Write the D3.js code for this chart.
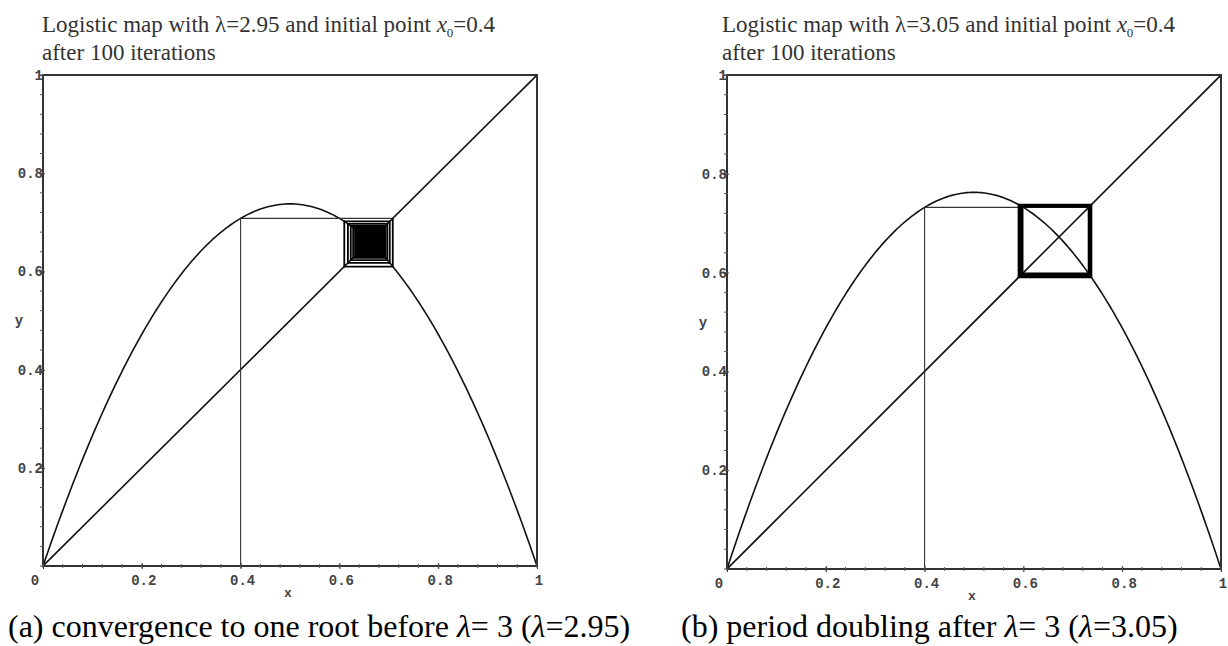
<!DOCTYPE html>
<html>
<head>
<meta charset="utf-8">
<script src="https://cdn.jsdelivr.net/npm/d3@7"></script>
<style>
  html, body { margin: 0; padding: 0; background: #fff; }
  svg { display: block; }
</style>
</head>
<body>
<svg id="chart" width="1228" height="646"></svg>
<script>
// ---- data ----
const panelIds = ["a", "b"];
const lambdas = [2.95, 3.05];
const startPoints = [0.4, 0.4];
const iterationCounts = [100, 100];
const xTickValues = [0, 0.2, 0.4, 0.6, 0.8, 1];
const xTickLabels = ["0", "0.2", "0.4", "0.6", "0.8", "1"];
const yTickValues = [0.2, 0.4, 0.6, 0.8, 1];
const yTickLabels = ["0.2", "0.4", "0.6", "0.8", "1"];
const titleLambda = ["2.95", "3.05"];
const captionText = [
  ["(a) convergence to one root before ", "λ", "= 3 (", "λ", "=2.95)"],
  ["(b) period doubling after ", "λ", "= 3 (", "λ", "=3.05)"]
];

// ---- layout ----
const panels = [
  { left: 43, right: 537, top: 75, bottom: 566, titleX: 42, capX: 8 },
  { left: 727, right: 1221, top: 75, bottom: 569, titleX: 722, capX: 681 }
];

const svg = d3.select("#chart");
const ink = "#111";
const monoFont = "'Liberation Mono', 'DejaVu Sans Mono', monospace";
const serifFont = "'Liberation Serif', 'Times New Roman', serif";

// logistic map (the plotted function, defined by λ in the titles)
const logistic = (lam, x) => lam * x * (1 - x);

panels.forEach((p, i) => {
  const lam = lambdas[i];
  const x = d3.scaleLinear().domain([0, 1]).range([p.left, p.right]);
  const y = d3.scaleLinear().domain([0, 1]).range([p.bottom, p.top]);
  const g = svg.append("g");

  // title
  const t = g.append("text")
    .attr("x", p.titleX).attr("y", 32)
    .attr("font-family", serifFont).attr("font-size", 23)
    .attr("fill", "#333");
  t.append("tspan").text("Logistic map with λ=" + titleLambda[i] + " and initial point ");
  t.append("tspan").attr("font-style", "italic").text("x");
  t.append("tspan").attr("font-size", 13).attr("dy", 5).text("0");
  t.append("tspan").attr("dy", -5).text("=" + startPoints[i]);
  g.append("text")
    .attr("x", p.titleX).attr("y", 60)
    .attr("font-family", serifFont).attr("font-size", 23)
    .attr("fill", "#333")
    .text("after " + iterationCounts[i] + " iterations");

  // clip
  const clipId = "clip" + panelIds[i];
  svg.append("clipPath").attr("id", clipId)
    .append("rect").attr("x", p.left).attr("y", p.top)
    .attr("width", p.right - p.left).attr("height", p.bottom - p.top);

  const plot = g.append("g").attr("clip-path", "url(#" + clipId + ")");

  // diagonal y = x
  plot.append("line")
    .attr("x1", x(0)).attr("y1", y(0)).attr("x2", x(1)).attr("y2", y(1))
    .attr("stroke", ink).attr("stroke-width", 1.6);

  // parabola
  const xs = d3.range(0, 1.0001, 0.005);
  const line = d3.line().x(d => x(d)).y(d => y(logistic(lam, d)));
  plot.append("path").datum(xs)
    .attr("d", line).attr("fill", "none")
    .attr("stroke", ink).attr("stroke-width", 1.6);

  // cobweb
  let xv = startPoints[i];
  const pts = [[xv, 0]];
  for (let k = 0; k < iterationCounts[i]; k++) {
    const yv = logistic(lam, xv);
    pts.push([xv, yv]);
    pts.push([yv, yv]);
    xv = yv;
  }
  const cob = d3.line().x(d => x(d[0])).y(d => y(d[1]));
  plot.append("path").datum(pts.slice(0, 3))
    .attr("d", cob).attr("fill", "none").attr("stroke", "#333").attr("stroke-width", 1.1);
  plot.append("path").datum(pts.slice(2))
    .attr("d", cob).attr("fill", "none").attr("stroke", "#000").attr("stroke-width", 1.8)
    .attr("stroke-linejoin", "miter");

  // frame
  g.append("rect")
    .attr("x", p.left).attr("y", p.top)
    .attr("width", p.right - p.left).attr("height", p.bottom - p.top)
    .attr("fill", "none").attr("stroke", "#333").attr("stroke-width", 2);

  // major ticks through D3 axes
  const xAxis = d3.axisBottom(x).tickValues(xTickValues).tickSize(4).tickFormat(() => "");
  const ax = g.append("g").attr("transform", `translate(0,${p.bottom})`).call(xAxis);
  ax.select(".domain").remove();
  ax.selectAll(".tick line").attr("stroke", "#333").attr("y1", -3).attr("y2", 3);
  const yAxis = d3.axisLeft(y).tickValues(yTickValues).tickSize(4).tickFormat(() => "");
  const ay = g.append("g").attr("transform", `translate(${p.left},0)`).call(yAxis);
  ay.select(".domain").remove();
  ay.selectAll(".tick line").attr("stroke", "#333").attr("x1", -4).attr("x2", 2);

  // minor ticks
  const minor = d3.range(0, 1.0001, 0.04);
  g.append("g").selectAll("line").data(minor).join("line")
    .attr("x1", d => x(d)).attr("x2", d => x(d))
    .attr("y1", p.bottom - 2).attr("y2", p.bottom + 2)
    .attr("stroke", "#555").attr("stroke-width", 1);
  g.append("g").selectAll("line").data(minor).join("line")
    .attr("y1", d => y(d)).attr("y2", d => y(d))
    .attr("x1", p.left - 3).attr("x2", p.left + 1)
    .attr("stroke", "#555").attr("stroke-width", 1);

  // tick labels
  g.append("g").selectAll("text").data(xTickValues).join("text")
    .attr("x", (d, j) => j === 0 ? x(d) - 8 : x(d) + 2)
    .attr("y", p.bottom + 19)
    .attr("text-anchor", "middle")
    .attr("font-family", monoFont).attr("font-size", 14).attr("font-weight", "bold")
    .attr("fill", "#444")
    .text((d, j) => xTickLabels[j]);
  g.append("g").selectAll("text").data(yTickValues).join("text")
    .attr("x", p.left)
    .attr("y", d => y(d) + 5)
    .attr("text-anchor", "end")
    .attr("font-family", monoFont).attr("font-size", 14).attr("font-weight", "bold")
    .attr("fill", "#444")
    .text((d, j) => yTickLabels[j]);

  // axis labels
  g.append("text")
    .attr("x", (p.left + p.right) / 2 - 2).attr("y", p.bottom + 31)
    .attr("text-anchor", "middle")
    .attr("font-family", monoFont).attr("font-size", 13).attr("font-weight", "bold")
    .attr("fill", "#444").text("x");
  g.append("text")
    .attr("x", p.left - 24).attr("y", y(0.49))
    .attr("text-anchor", "middle")
    .attr("font-family", monoFont).attr("font-size", 14).attr("font-weight", "bold")
    .attr("fill", "#444").text("y");

  // caption
  const c = svg.append("text")
    .attr("x", p.capX).attr("y", 637)
    .attr("font-family", serifFont).attr("font-size", 32).attr("fill", "#000");
  captionText[i].forEach(s => {
    c.append("tspan").attr("font-style", s === "λ" ? "italic" : "normal").text(s);
  });
});
</script>
</body>
</html>
